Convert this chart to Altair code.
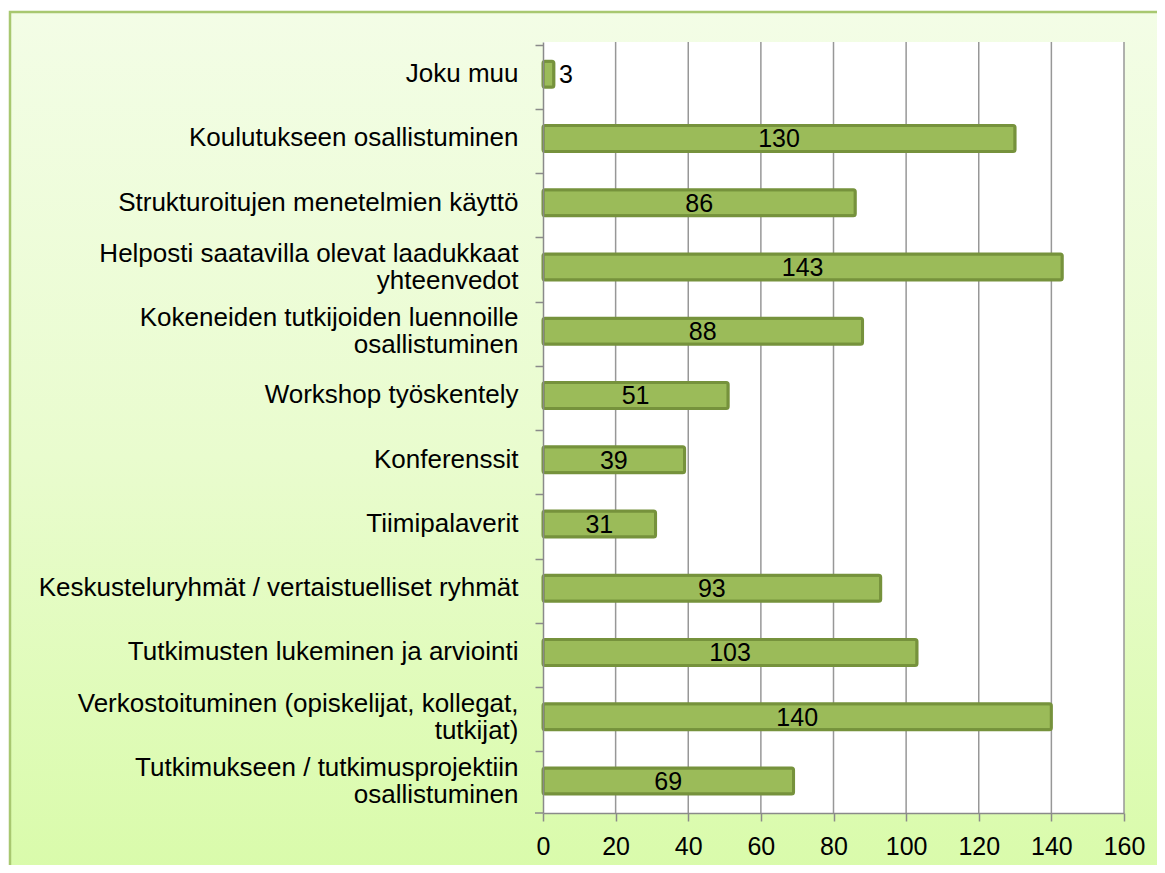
import altair as alt
import pandas as pd

categories = [
    "Joku muu",
    "Koulutukseen osallistuminen",
    "Strukturoitujen menetelmien käyttö",
    "Helposti saatavilla olevat laadukkaat\nyhteenvedot",
    "Kokeneiden tutkijoiden luennoille\nosallistuminen",
    "Workshop työskentely",
    "Konferenssit",
    "Tiimipalaverit",
    "Keskusteluryhmät / vertaistuelliset ryhmät",
    "Tutkimusten lukeminen ja arviointi",
    "Verkostoituminen (opiskelijat, kollegat,\ntutkijat)",
    "Tutkimukseen / tutkimusprojektiin\nosallistuminen",
]
values = [3, 130, 86, 143, 88, 51, 39, 31, 93, 103, 140, 69]
x_ticks = [0, 20, 40, 60, 80, 100, 120, 140, 160]

W, H = 581, 771
FONT = "Liberation Sans"

df = pd.DataFrame({"category": categories, "value": values})
ticks_df = pd.DataFrame({"t": x_ticks[1:]})
one = pd.DataFrame({"a": [0]})

xscale = alt.Scale(domain=[0, 160], nice=False, zero=True)

bg = alt.Chart(one).mark_rect(
    fill=alt.Gradient(
        gradient="linear",
        stops=[
            alt.GradientStop(color="#f3fde6", offset=0),
            alt.GradientStop(color="#e9fcce", offset=0.5),
            alt.GradientStop(color="#d8fba8", offset=1),
        ],
        x1=0, x2=0, y1=0, y2=1,
    ),
    stroke="#a8c870",
    strokeWidth=2.5,
).encode(
    x=alt.value(-533), x2=alt.value(W + 80),
    y=alt.value(-30), y2=alt.value(H + 90),
)

plot_bg = alt.Chart(one).mark_rect(fill="white").encode(
    x=alt.value(0), x2=alt.value(W), y=alt.value(0), y2=alt.value(H)
)

grid = alt.Chart(ticks_df).mark_rule(color="#979797", strokeWidth=1.5).encode(
    x=alt.X("t:Q", scale=xscale)
)

ysort = categories

bars = alt.Chart(df).mark_bar(
    size=26, fill="#9bbb59", stroke="#76923c", strokeWidth=3, cornerRadius=2
).encode(
    x=alt.X(
        "value:Q",
        scale=xscale,
        title=None,
        axis=alt.Axis(
            values=x_ticks, grid=False, domainColor="#8a8a8a", domainWidth=1.5,
            tickColor="#8a8a8a", tickWidth=1.5, tickSize=8, labelFlush=False,
            labelFont=FONT, labelFontSize=25, labelColor="black", labelPadding=13,
            zindex=1,
        ),
    ),
    y=alt.Y(
        "category:N",
        sort=ysort,
        title=None,
        axis=alt.Axis(
            bandPosition=0, grid=False, domainColor="#8a8a8a", domainWidth=1.5,
            tickColor="#8a8a8a", tickWidth=1.5, tickSize=8,
            labelFont=FONT, labelFontSize=26, labelColor="black", labelPadding=17,
            labelLimit=700, labelLineHeight=27,
            labelExpr="split(datum.label, '\\n')",
            labelOffset={"condition": {"test": "indexof(datum.label, '\\n') >= 0", "value": -13},
                         "value": 0},
            zindex=1,
        ),
    ),
)

inside = alt.Chart(df).transform_filter("datum.value >= 10").transform_calculate(
    half="datum.value / 2"
).mark_text(font=FONT, fontSize=25, color="black", baseline="middle", dy=1).encode(
    x=alt.X("half:Q", scale=xscale),
    y=alt.Y("category:N", sort=ysort),
    text=alt.Text("value:Q"),
)

outside = alt.Chart(df).transform_filter("datum.value < 10").mark_text(
    font=FONT, fontSize=25, color="black", baseline="middle", align="left", dx=5, dy=1
).encode(
    x=alt.X("value:Q", scale=xscale),
    y=alt.Y("category:N", sort=ysort),
    text=alt.Text("value:Q"),
)

corner = alt.Chart(one).mark_rule(color="#8a8a8a", strokeWidth=1.5).encode(
    x=alt.value(-8), x2=alt.value(0), y=alt.value(H)
)

chart = alt.layer(bg, plot_bg, grid, bars, inside, outside, corner).properties(
    width=W,
    height=H,
    padding={"left": 535, "top": 34, "right": 33, "bottom": 52},
    autosize=alt.AutoSizeParams(type="none"),
    background="white",
).configure_view(stroke=None)

chart.save("out.html", embed_options={"renderer": "svg", "actions": False})
